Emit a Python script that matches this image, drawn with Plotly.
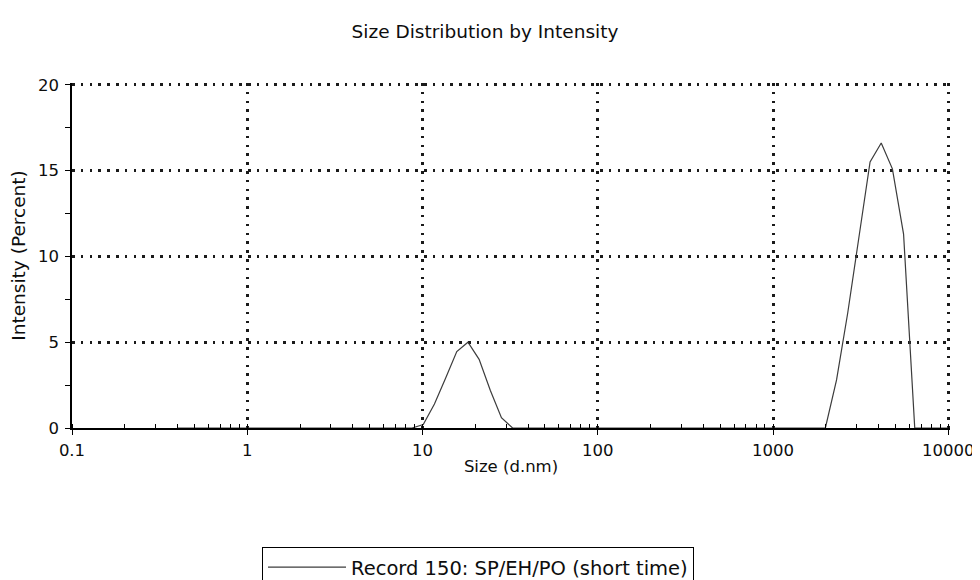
import plotly.graph_objects as go

# ---- data ----
sizes_nm = [0.4, 8.72, 10.1, 11.7, 13.54, 15.69, 18.17, 21.04, 24.36, 28.21, 32.67,
            1718, 1990, 2305, 2669, 3091, 3580, 4145, 4801, 5560, 6439, 7456, 10000]
intensity_pct = [0, 0, 0.2, 1.4, 2.9, 4.45, 5.0, 4.0, 2.2, 0.6, 0,
                 0, 0, 2.8, 6.7, 11.1, 15.5, 16.6, 15.1, 11.3, 0, 0, 0]
series_name = "Record 150: SP/EH/PO (short time)"

x_tickvals = [0.1, 1, 10, 100, 1000, 10000]
x_ticktext = ["0.1", "1", "10", "100", "1000", "10000"]
y_tickvals = [0, 5, 10, 15, 20]

FONT = "DejaVu Sans"
INK = "#0d0d0d"

# the page has an 8px body margin, so the figure is sized to fill the rest of the window
W, H = 972, 572
ML, MR, MT, MB = 64, 30, 75, 152
PW = W - ML - MR
PH = H - MT - MB

fig = go.Figure()
fig.add_trace(go.Scatter(
    x=sizes_nm, y=intensity_pct, mode="lines", name=series_name,
    line=dict(color="#3c3c3c", width=1.2),
    showlegend=True,
))

grid = dict(showgrid=True, gridcolor="#1a1a1a", gridwidth=2.5, griddash="2.5px,6.3px")

fig.update_layout(
    template="none",
    width=W, height=H,
    margin=dict(l=ML, r=MR, t=MT, b=MB, autoexpand=False),
    paper_bgcolor="white", plot_bgcolor="white",
    font=dict(family=FONT, color=INK, size=16),
    title=dict(text="Size Distribution by Intensity", x=477 / W, xanchor="center",
               y=1 - 24 / H, yanchor="middle", yref="container",
               font=dict(family=FONT, size=18.5, color=INK)),
    showlegend=True,
    legend=dict(x=(254 - ML) / PW, xanchor="left", y=-(539 - (MT + PH)) / PH, yanchor="top",
                bordercolor="black", borderwidth=1, bgcolor="white",
                font=dict(family=FONT, size=19.5, color=INK), itemwidth=78),
    xaxis=dict(type="log", range=[-1, 4.01], tickvals=x_tickvals, ticktext=x_ticktext,
               showline=True, linecolor="black", linewidth=1.5, zeroline=False,
               ticks="outside", ticklen=5, tickcolor="black", tickwidth=1,
               ticklabelstandoff=1, automargin=False,
               minor=dict(dtick="D1", ticks="inside", ticklen=4, tickcolor="black", showgrid=False),
               title=dict(text="Size (d.nm)", standoff=2, font=dict(family=FONT, size=16.5, color=INK)),
               tickfont=dict(family=FONT, size=16.5, color=INK), **grid),
    yaxis=dict(range=[0, 20.1], tickvals=y_tickvals,
               showline=True, linecolor="black", linewidth=1.5, zeroline=False,
               ticks="outside", ticklen=4, tickcolor="black", tickwidth=1,
               ticklabelstandoff=4, automargin=False,
               minor=dict(dtick=2.5, ticks="outside", ticklen=5, tickcolor="black", showgrid=False),
               title=dict(text="Intensity (Percent)", standoff=12, font=dict(family=FONT, size=18.5, color=INK)),
               tickfont=dict(family=FONT, size=16.5, color=INK), **grid),
)

fig.write_html("out.html")
